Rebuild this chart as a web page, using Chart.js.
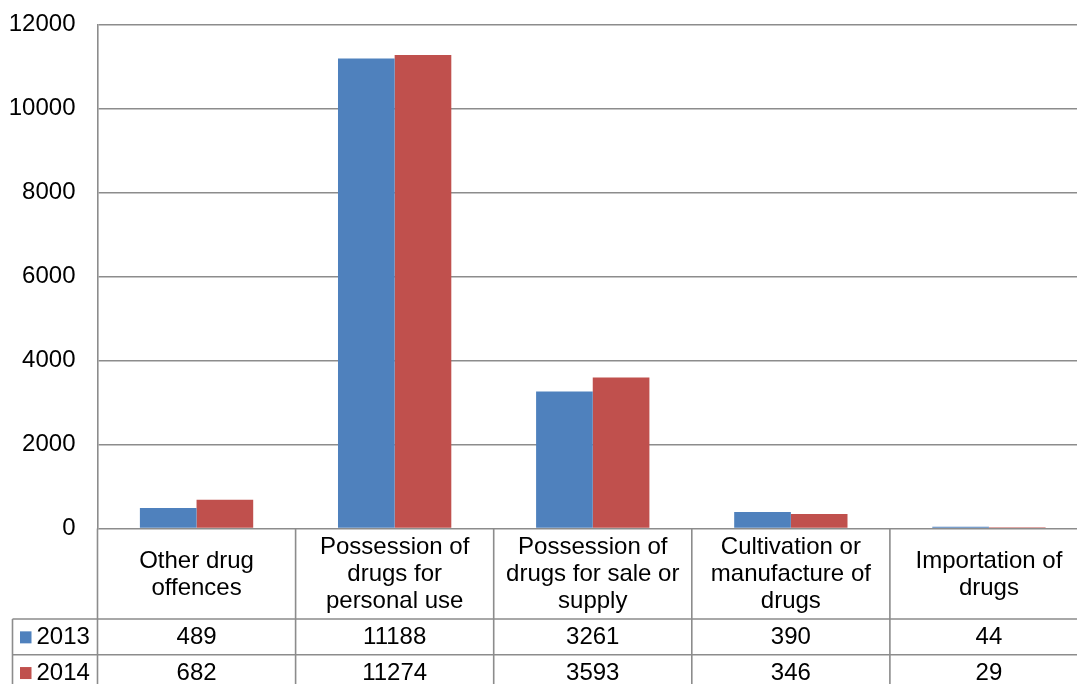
<!DOCTYPE html>
<html>
<head>
<meta charset="utf-8">
<script src="https://cdn.jsdelivr.net/npm/chart.js@4/dist/chart.umd.min.js"></script>
<style>
  html, body { margin: 0; padding: 0; background: #fff; overflow: hidden; }
  #wrap { position: absolute; left: 0; top: 0; width: 1092px; height: 692px; }
</style>
</head>
<body>
<div id="wrap"><canvas id="c" width="1092" height="692"></canvas></div>
<script>
// Drug offence categories, each split into the lines shown in the table header
const categories = [
  ['Other drug', 'offences'],
  ['Possession of', 'drugs for', 'personal use'],
  ['Possession of', 'drugs for sale or', 'supply'],
  ['Cultivation or', 'manufacture of', 'drugs'],
  ['Importation of', 'drugs']
];
const seriesNames = ['2013', '2014'];
const values2013 = [489, 11188, 3261, 390, 44];
const values2014 = [682, 11274, 3593, 346, 29];
const yTicks = [0, 2000, 4000, 6000, 8000, 10000, 12000];

const COLORS = ['#4F81BD', '#C0504D'];
const GRID = '#8c8c8c';
const FONT = '"Liberation Sans", Arial, sans-serif';
const FONT_SIZE = 24;

// Data table drawn underneath the plot, aligned with the category scale
const dataTable = {
  id: 'dataTable',
  afterDraw(chart) {
    const ctx = chart.ctx;
    const x = chart.scales.x;
    const area = chart.chartArea;
    const n = categories.length;
    const catW = x.getPixelForValue(1) - x.getPixelForValue(0);
    const bounds = [];
    for (let i = 0; i <= n; i++) bounds.push(x.getPixelForValue(0) - catW / 2 + i * catW);

    const headTop = area.bottom;
    const headBottom = headTop + 90.5;
    const rowH = 35.7;
    const tableBottom = headBottom + rowH * 2;
    const tableLeft = 12.5;

    ctx.save();
    ctx.strokeStyle = GRID;
    ctx.lineWidth = 1.6;
    ctx.beginPath();
    // vertical separators between categories
    bounds.forEach(b => { ctx.moveTo(b, headTop); ctx.lineTo(b, tableBottom); });
    // outer left edge of the series-name column
    ctx.moveTo(tableLeft, headBottom); ctx.lineTo(tableLeft, tableBottom);
    // row separators
    for (let r = 0; r <= 2; r++) {
      const y = headBottom + r * rowH;
      ctx.moveTo(tableLeft, y); ctx.lineTo(bounds[n], y);
    }
    ctx.stroke();

    ctx.fillStyle = '#000';
    ctx.font = FONT_SIZE + 'px ' + FONT;
    ctx.textBaseline = 'middle';
    ctx.textAlign = 'center';
    const lineH = 27;
    const headMid = (headTop + headBottom) / 2;
    categories.forEach((lines, i) => {
      const cx = x.getPixelForValue(i);
      const y0 = headMid - (lines.length - 1) * lineH / 2;
      lines.forEach((t, k) => ctx.fillText(t, cx, y0 + k * lineH + 1));
    });

    const rows = [values2013, values2014];
    rows.forEach((vals, r) => {
      const cy = headBottom + r * rowH + rowH / 2 + 1;
      ctx.textAlign = 'center';
      ctx.fillStyle = '#000';
      vals.forEach((v, i) => ctx.fillText(String(v), x.getPixelForValue(i), cy));
      // legend key and series name
      ctx.fillStyle = COLORS[r];
      ctx.fillRect(20, cy - 6.5, 11.5, 12);
      ctx.fillStyle = '#000';
      ctx.textAlign = 'left';
      ctx.fillText(seriesNames[r], 36.5, cy);
    });
    ctx.restore();
  }
};

new Chart(document.getElementById('c'), {
  type: 'bar',
  data: {
    labels: categories.map(l => l.join(' ')),
    datasets: [
      { label: seriesNames[0], data: values2013, backgroundColor: COLORS[0], borderWidth: 0 },
      { label: seriesNames[1], data: values2014, backgroundColor: COLORS[1], borderWidth: 0 }
    ]
  },
  options: {
    responsive: false,
    animation: false,
    devicePixelRatio: 1,
    layout: { padding: { top: 24.5, right: 4, bottom: 163.5, left: 0 } },
    datasets: { bar: { categoryPercentage: 0.572, barPercentage: 1.0 } },
    plugins: { legend: { display: false }, tooltip: { enabled: false }, title: { display: false } },
    scales: {
      x: { display: false },
      y: {
        min: yTicks[0],
        max: yTicks[yTicks.length - 1],
        afterBuildTicks(scale) { scale.ticks = yTicks.map(v => ({ value: v })); },
        afterFit(scale) {
          scale.width = 97.5;
          // the outer layout padding already leaves room for the end labels
          scale.paddingTop = 0;
          scale.paddingBottom = 0;
        },
        ticks: {
          padding: 22,
          color: '#000',
          font: { family: FONT, size: FONT_SIZE },
          callback: v => String(v)
        },
        grid: { color: GRID, lineWidth: 1.6, drawTicks: false },
        border: { display: true, color: GRID, width: 1.6 }
      }
    }
  },
  plugins: [dataTable]
});
</script>
</body>
</html>
